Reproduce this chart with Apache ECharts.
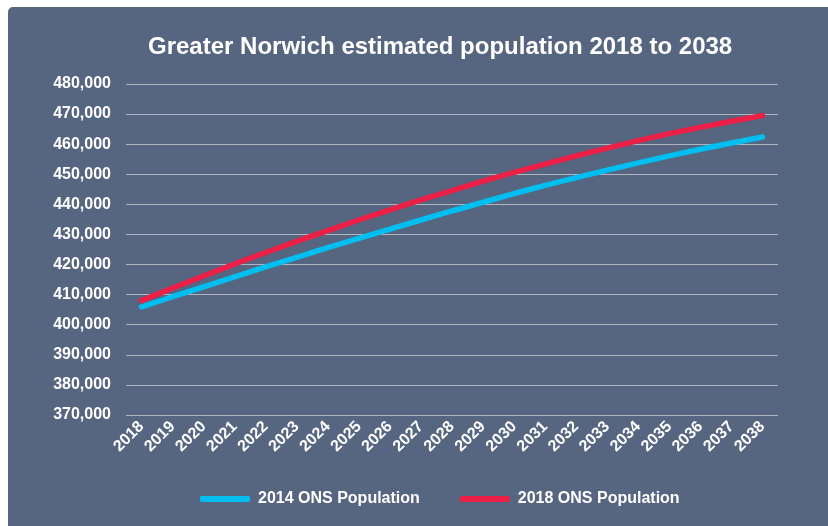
<!DOCTYPE html>
<html>
<head>
<meta charset="utf-8">
<script src="https://cdn.jsdelivr.net/npm/echarts@6/dist/echarts.min.js"></script>
<style>
html,body{margin:0;padding:0;background:#ffffff;overflow:hidden;}
#panel{position:absolute;left:8px;top:7px;width:830px;height:530px;background:#566580;border-radius:5px;}
#c{position:absolute;left:0;top:0;width:828px;height:526px;}
</style>
</head>
<body>
<div id="panel"></div>
<div id="c"></div>
<script>
const titleText = 'Greater Norwich estimated population 2018 to 2038';
const years = ['2018','2019','2020','2021','2022','2023','2024','2025','2026','2027','2028','2029','2030','2031','2032','2033','2034','2035','2036','2037','2038'];
const ons2014 = [405900,409300,412600,415900,419200,422400,425600,428700,431800,434800,437800,440700,443600,446300,448900,451400,453800,456100,458300,460400,462400];
const ons2018 = [408000,412200,416200,420200,424000,427700,431300,434800,438200,441500,444600,447700,450600,453400,456100,458700,461200,463500,465600,467600,469500];
const seriesNames = ['2014 ONS Population','2018 ONS Population'];
const seriesColors = ['#00BFF0','#EC1F47'];

const chart = echarts.init(document.getElementById('c'), null, {renderer:'canvas'});
const font = 'Liberation Sans, Arial, sans-serif';
chart.setOption({
  backgroundColor: 'transparent',
  animation: false,
  title: {
    text: titleText,
    left: 143, top: 30,
    textStyle: {color:'#ffffff', fontSize: 24, fontWeight:'bold', fontFamily: font}
  },
  legend: {
    top: 486, left: 195,
    itemWidth: 50, itemHeight: 6, itemGap: 40,
    icon: 'roundRect',
    textStyle: {color:'#ffffff', fontSize: 16, fontWeight:'bold', fontFamily: font, padding:[0,0,0,3]},
    data: seriesNames
  },
  grid: {left: 126, right: 50, top: 84, bottom: 111},
  xAxis: {
    type: 'category', data: years, boundaryGap: true,
    axisLine: {show:false}, axisTick: {show:false},
    axisLabel: {rotate: 45, color:'#ffffff', fontSize: 16, fontWeight:'bold', fontFamily: font, margin: 9, interval: 0}
  },
  yAxis: {
    type: 'value', min: 370000, max: 480000, interval: 10000,
    axisLine: {show:false}, axisTick: {show:false},
    axisLabel: {color:'#ffffff', fontSize: 16, fontWeight:'bold', fontFamily: font, margin: 15,
      formatter: v => v.toLocaleString('en-US')},
    splitLine: {lineStyle: {color:'#AEB4C0', width: 1}}
  },
  series: [
    {name: seriesNames[0], type:'line', data: ons2014, showSymbol:false, symbol:'none',
      lineStyle:{color: seriesColors[0], width: 5.5, cap:'round'}, itemStyle:{color: seriesColors[0]}},
    {name: seriesNames[1], type:'line', data: ons2018, showSymbol:false, symbol:'none',
      lineStyle:{color: seriesColors[1], width: 5.5, cap:'round'}, itemStyle:{color: seriesColors[1]}}
  ]
});
</script>
</body>
</html>
